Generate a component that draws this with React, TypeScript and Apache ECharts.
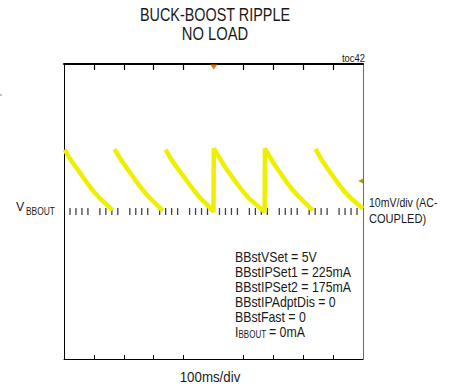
import React, { useEffect, useRef } from "react";
import * as echarts from "echarts";

// ---- Data (time in ms, ripple in mV, AC-coupled) ----
const titleLines = ["BUCK-BOOST RIPPLE", "NO LOAD"];
const tickSlots = ["0", "100", "200", "300", "400", "500", "600", "700", "800", "900", "1000"];

const seg1: [number, number][] = [[2, 16.8], [20, 14.3], [42, 11.8], [70, 8.6], [95, 5.8], [118, 3.7], [140, 2.1], [162, 0.4]];
const seg2: [number, number][] = [[169, 16.9], [188, 14.4], [209, 11.9], [236, 8.8], [262, 6.0], [285, 3.8], [308, 2.0], [331, 0.2]];
const seg3: [number, number][] = [[340, 16.8], [358, 14.2], [380, 11.7], [407, 8.7], [433, 5.9], [456, 3.6], [478, 1.9], [500, -0.1]];
const seg4: [number, number][] = [[501, 17.1], [520, 14.5], [541, 11.8], [568, 8.7], [594, 5.9], [617, 3.7], [644, 1.8], [671, -0.1]];
const seg5: [number, number][] = [[672, 17.1], [691, 14.4], [712, 11.8], [739, 8.6], [765, 5.8], [788, 3.8], [810, 2.1], [832, 0.3]];
const seg6: [number, number][] = [[841, 17.0], [860, 14.2], [881, 11.7], [908, 8.6], [934, 5.8], [957, 3.8], [978, 2.3], [1000, 0.8]];

const centerTickTimes: number[] = [
  20, 40, 60, 80, 120, 140, 160, 180, 220, 240, 260, 280, 320, 340, 360, 380,
  420, 440, 460, 480, 520, 540, 560, 580, 620, 640, 660, 680, 720, 740, 760, 780,
  820, 840, 860, 880, 920, 940, 960, 980,
];

const triggerMark: [number, number] = [501, 39.2];
const groundMark: [number, number] = [992, 8.3];

const annotations = [
  "BBstVSet = 5V",
  "BBstIPSet1 = 225mA",
  "BBstIPSet2 = 175mA",
  "BBstIPAdptDis = 0",
  "BBstFast = 0",
];

const FONT = '"Liberation Sans", Arial, Helvetica, sans-serif';
const TXT = "#1a1a1a";
const PLOT_H = 295;

export default function App() {
  const ref = useRef<HTMLDivElement>(null);

  useEffect(() => {
    if (!ref.current) return;
    const chart = echarts.init(ref.current, undefined, { renderer: "svg" });

    const wave: any[] = [
      ...seg1, [165, "-"],
      ...seg2, [335, "-"],
      ...seg3,
      ...seg4,
      ...seg5, [836, "-"],
      ...seg6,
    ];

    const t = (text: string, x: number, y: number, size: number, sx = 0.86, align = "left") => ({
      type: "text",
      x,
      y,
      scaleX: sx,
      silent: true,
      style: {
        text,
        fontSize: size,
        fontFamily: FONT,
        fill: TXT,
        align,
        verticalAlign: "middle",
      },
    });

    const graphic: any[] = [
      t(titleLines[0], 215, 14, 18, 0.8, "center"),
      t(titleLines[1], 215, 33, 18, 0.82, "center"),
      t("toc42", 365, 58, 10.5, 0.9, "right"),
      t("V", 16, 207, 13, 0.95),
      t("BBOUT", 26, 211, 10.5, 0.8),
      t("10mV/div (AC-", 369, 203, 13.5, 0.78),
      t("COUPLED)", 369, 219, 13.5, 0.82),
      t("100ms/div", 210, 377, 14, 0.95, "center"),
      ...annotations.map((s, i) => t(s, 235, 257 + i * 15, 14, 0.88)),
      t("I", 235, 332, 14, 0.88),
      t("BBOUT", 238.5, 335, 10, 0.8),
      t("= 0mA", 269, 332, 14, 0.88),
      { type: "line", shape: { x1: 0, y1: 95, x2: 2, y2: 95 }, style: { stroke: "#888", lineWidth: 1 } },
    ];

    const skipMiddle = (i: number) => i !== 5 && i !== 0 && i !== 10;

    chart.setOption({
      animation: false,
      backgroundColor: "#ffffff",
      grid: { left: 64, top: 64, width: 299, height: PLOT_H, containLabel: false },
      xAxis: [
        {
          type: "value",
          show: false,
          position: "bottom",
          min: 0,
          max: 1000,
          interval: 100,
          axisLine: { onZero: false },
          splitLine: { show: false },
        },
        {
          type: "category",
          position: "top",
          data: tickSlots,
          boundaryGap: false,
          axisLine: { show: true, onZero: false, lineStyle: { color: "#000", width: 2 } },
          axisTick: { show: false },
          axisLabel: { show: false },
          splitLine: { show: false },
        },
        {
          type: "category",
          position: "bottom",
          data: tickSlots,
          boundaryGap: false,
          axisLine: { show: true, onZero: false, lineStyle: { color: "#000", width: 1 } },
          axisTick: {
            show: true,
            inside: true,
            length: 4,
            interval: skipMiddle,
            lineStyle: { color: "#000", width: 1 },
          },
          axisLabel: { show: false },
          splitLine: { show: false },
        },
        {
          // tick row for the top border: a bottom-type axis lifted to the top edge
          type: "category",
          position: "bottom",
          offset: -PLOT_H,
          data: tickSlots,
          boundaryGap: false,
          axisLine: { show: false, onZero: false },
          axisTick: {
            show: true,
            inside: false,
            length: 6,
            interval: skipMiddle,
            lineStyle: { color: "#000", width: 1.2 },
          },
          axisLabel: { show: false },
          splitLine: { show: false },
        },
      ],
      yAxis: [
        {
          type: "value",
          position: "left",
          min: -40,
          max: 40,
          interval: 10,
          axisLine: { show: true, onZero: false, lineStyle: { color: "#000", width: 1 } },
          axisTick: { show: false },
          axisLabel: { show: false },
          splitLine: { show: false },
        },
        {
          type: "value",
          position: "right",
          min: -40,
          max: 40,
          interval: 10,
          axisLine: { show: true, onZero: false, lineStyle: { color: "#6a6a6a", width: 1 } },
          axisTick: { show: false },
          axisLabel: { show: false },
          splitLine: { show: false },
        },
      ],
      series: [
        {
          type: "scatter",
          xAxisIndex: 0,
          yAxisIndex: 0,
          data: centerTickTimes.map((x) => [x, 0]),
          symbol: "rect",
          symbolSize: [1.3, 7],
          itemStyle: { color: "#111" },
          silent: true,
          z: 2,
        },
        {
          type: "line",
          xAxisIndex: 0,
          yAxisIndex: 0,
          data: wave,
          showSymbol: false,
          symbol: "none",
          connectNulls: false,
          lineStyle: { color: "#eef000", width: 4.5 },
          z: 3,
          silent: true,
          markPoint: {
            silent: true,
            label: { show: false },
            data: [
              {
                coord: triggerMark,
                symbol: "triangle",
                symbolRotate: 180,
                symbolSize: [7, 5],
                itemStyle: { color: "#f07000" },
              },
              {
                coord: groundMark,
                symbol: "triangle",
                symbolRotate: 90,
                symbolSize: [5, 5],
                itemStyle: { color: "#a99a1c" },
              },
            ],
          },
        },
      ],
      graphic,
    });

    return () => chart.dispose();
  }, []);

  return (
    <div
      ref={ref}
      style={{ position: "fixed", left: 0, top: 0, width: 461, height: 384, background: "#fff" }}
    />
  );
}
